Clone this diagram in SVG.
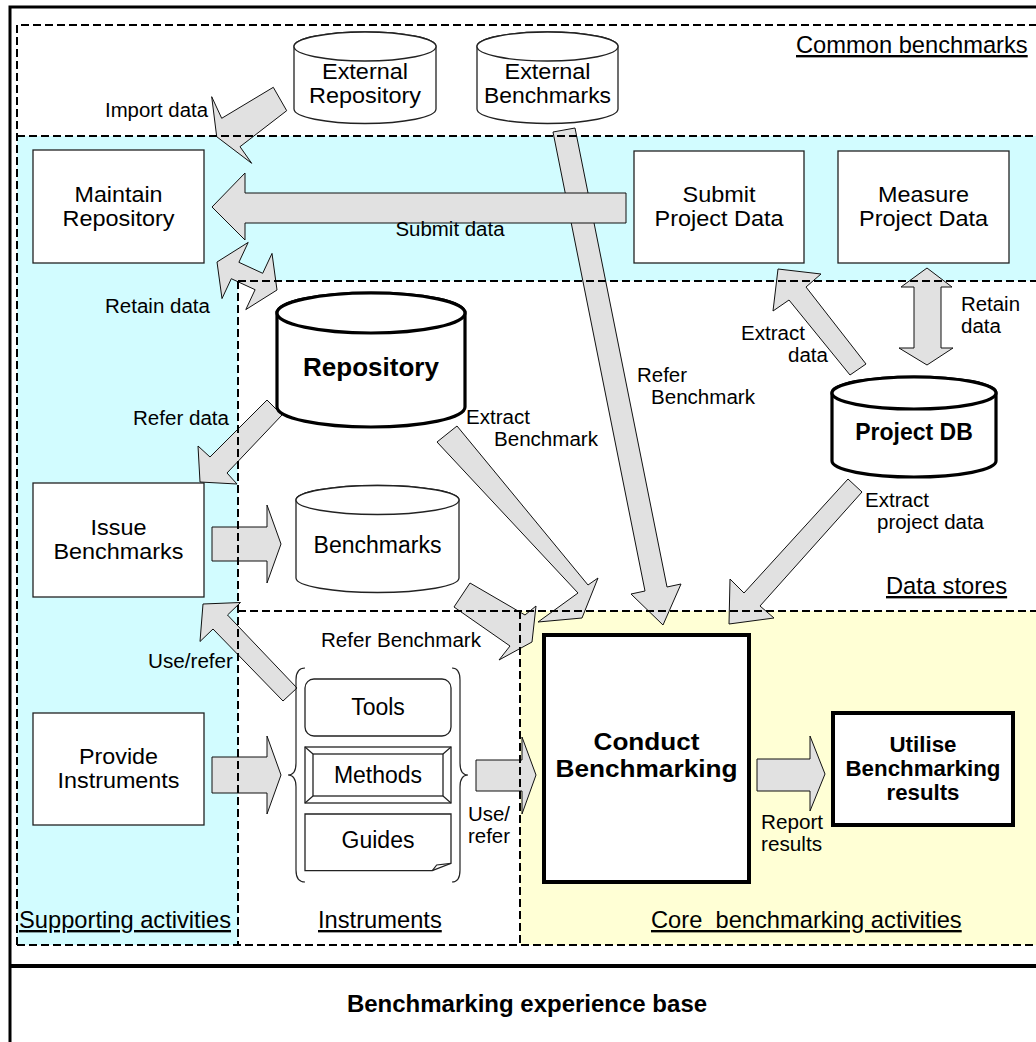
<svg xmlns="http://www.w3.org/2000/svg" width="1036" height="1042" viewBox="0 0 1036 1042">
<style>
.t{font-family:"Liberation Sans",Arial,sans-serif;fill:#000}
.n{font-size:21.5px;text-anchor:middle}
.n1{font-size:23px;text-anchor:middle}
.b{font-weight:bold}
.l{font-size:19.5px}
.r{font-size:23.7px;text-decoration:underline}
.box{fill:#fff;stroke:#222;stroke-width:1.3}
.thick{fill:#fff;stroke:#000;stroke-width:4}
.cyl{fill:#fff;stroke:#222;stroke-width:1.3}
.cylb{fill:#fff;stroke:#000;stroke-width:3.2}
.arrow{fill:#E1E1E1;stroke:#111;stroke-width:1}
.dash{fill:none;stroke:#000;stroke-width:2;stroke-dasharray:8 4}
.thin{fill:none;stroke:#222;stroke-width:1.2}
</style>
<rect x="0" y="0" width="1036" height="1042" fill="#fff"/>
<g id="regions">
<rect x="10" y="7" width="1040" height="1045" fill="#fff" stroke="#000" stroke-width="3"/>
<path d="M17,136 H1040 V281 H238 V945 H17 Z" fill="#D2FCFF"/>
<rect x="520" y="611" width="520" height="334" fill="#FFFFD5"/>
<line x1="10" y1="966" x2="1040" y2="966" stroke="#000" stroke-width="4"/>
</g>
<g id="connectors">
<polygon id="c-import" class="arrow" points="273.3,87.3 221.7,118.3 211.7,96.7 216.7,136.7 251.7,163.3 240,146.7 286.7,110.7"/>
<polygon id="c-referbench" class="arrow" points="553,132 645,591 631,594 663,625 681,584 667,587 575,128"/>
<polygon id="c-submit" class="arrow" points="626,193 245,193 245,173 212,207 245,240 245,223 626,223"/>
<polygon id="c-retain1" class="arrow" points="217,262 248.2,242.4 238.9,262.3 262.7,273.3 272,253.4 277,290 245.8,309.6 255.1,289.7 231.3,278.7 222,298.6"/>
<polygon id="c-extractdata" class="arrow" points="850,375 789,300 773,311 778,269 821,274 806,287 866,364"/>
<polygon id="c-retain2" class="arrow" points="927,268 952,287 941,287 941,348 953,348 927,365 899,348 914,348 914,287 901,287"/>
<polygon id="c-referdata" class="arrow" points="267,400 210,457 198,446 200,482 237,484 227,473 282,415"/>
<polygon id="c-extractbench" class="arrow" points="457,426 588,585 598,578 582,618 538,622 578,593 437,442"/>
<polygon id="c-extractproj" class="arrow" points="848,479 744,593 730,579 729,624 774,618 760,606 862,492"/>
<polygon id="c-issue" class="arrow" points="212,527 267,527 267,505 281,544 267,583 267,561 212,561"/>
<polygon id="c-referbench2" class="arrow" points="470,583 525,615 536,606 532,642 499,660 510,646 454,607"/>
<polygon id="c-userefer1" class="arrow" points="297,688 227.5,615 240.5,602.5 203,604 200,641.5 213,629 283,701"/>
<polygon id="c-provide" class="arrow" points="212,757 267,757 267,736 281,775 267,814 267,793 212,793"/>
<polygon id="c-userefer2" class="arrow" points="476,760 522,760 522,737 536,775 522,814 522,791 476,791"/>
<polygon id="c-report" class="arrow" points="757,759 810,759 810,736 825,774 810,811 810,791 757,791"/>
<text class="t l" x="208" y="117" text-anchor="end" textLength="103" lengthAdjust="spacingAndGlyphs">Import data</text>
<text class="t l" x="450" y="236" text-anchor="middle" textLength="109" lengthAdjust="spacingAndGlyphs">Submit data</text>
<text class="t l" x="210" y="313" text-anchor="end" textLength="105" lengthAdjust="spacingAndGlyphs">Retain data</text>
<text class="t l" x="229" y="425" text-anchor="end" textLength="96" lengthAdjust="spacingAndGlyphs">Refer data</text>
<text class="t l" x="466" y="424" textLength="64" lengthAdjust="spacingAndGlyphs">Extract</text>
<text class="t l" x="494" y="446" textLength="104" lengthAdjust="spacingAndGlyphs">Benchmark</text>
<text class="t l" x="637" y="382" textLength="50" lengthAdjust="spacingAndGlyphs">Refer</text>
<text class="t l" x="651" y="404" textLength="104" lengthAdjust="spacingAndGlyphs">Benchmark</text>
<text class="t l" x="741" y="340" textLength="64" lengthAdjust="spacingAndGlyphs">Extract</text>
<text class="t l" x="788" y="362" textLength="40" lengthAdjust="spacingAndGlyphs">data</text>
<text class="t l" x="961" y="311" textLength="59" lengthAdjust="spacingAndGlyphs">Retain</text>
<text class="t l" x="961" y="333" textLength="40" lengthAdjust="spacingAndGlyphs">data</text>
<text class="t l" x="865" y="507" textLength="64" lengthAdjust="spacingAndGlyphs">Extract</text>
<text class="t l" x="877" y="529" textLength="107" lengthAdjust="spacingAndGlyphs">project data</text>
<text class="t l" x="321" y="647" textLength="160" lengthAdjust="spacingAndGlyphs">Refer Benchmark</text>
<text class="t l" x="233" y="668" text-anchor="end" textLength="85" lengthAdjust="spacingAndGlyphs">Use/refer</text>
<text class="t l" x="468" y="821" textLength="42" lengthAdjust="spacingAndGlyphs">Use/</text>
<text class="t l" x="468" y="843" textLength="42" lengthAdjust="spacingAndGlyphs">refer</text>
<text class="t l" x="761" y="829" textLength="62" lengthAdjust="spacingAndGlyphs">Report</text>
<text class="t l" x="761" y="851" textLength="61" lengthAdjust="spacingAndGlyphs">results</text>
</g>
<g id="borders">
<path class="dash" d="M17,945 V25 H1040"/>
<line class="dash" x1="17" y1="136" x2="1040" y2="136"/>
<line class="dash" x1="238" y1="281" x2="1040" y2="281"/>
<line class="dash" x1="238" y1="281" x2="238" y2="945"/>
<line class="dash" x1="238" y1="611" x2="1040" y2="611"/>
<line class="dash" x1="520" y1="611" x2="520" y2="945"/>
<line class="dash" x1="17" y1="945" x2="1040" y2="945"/>
<text class="t r" x="796" y="53">Common benchmarks</text>
<text class="t r" x="886" y="594">Data stores</text>
<text class="t r" x="19" y="928">Supporting activities</text>
<text class="t r" x="318" y="928">Instruments</text>
<text class="t r" x="651" y="928" style="white-space:pre">Core  benchmarking activities</text>
</g>
<g id="ext-repository">
<path class="cyl" d="M294,46.5 V109 A71,14.5 0 0 0 436,109 V46.5 A71,14.5 0 0 0 294,46.5 Z"/>
<ellipse class="cyl" cx="365" cy="46.5" rx="71" ry="14.5"/>
<text class="t n" x="365" y="79" textLength="86" lengthAdjust="spacingAndGlyphs">External</text>
<text class="t n" x="365" y="103" textLength="112" lengthAdjust="spacingAndGlyphs">Repository</text>
</g>
<g id="ext-benchmarks">
<path class="cyl" d="M477,46.5 V109 A70.5,14.5 0 0 0 618,109 V46.5 A70.5,14.5 0 0 0 477,46.5 Z"/>
<ellipse class="cyl" cx="547.5" cy="46.5" rx="70.5" ry="14.5"/>
<text class="t n" x="547.5" y="79" textLength="86" lengthAdjust="spacingAndGlyphs">External</text>
<text class="t n" x="547.5" y="103" textLength="127" lengthAdjust="spacingAndGlyphs">Benchmarks</text>
</g>
<g id="maintain-repository">
<rect class="box" x="33" y="150" width="171" height="113"/>
<text class="t n" x="118.5" y="202" textLength="88" lengthAdjust="spacingAndGlyphs">Maintain</text>
<text class="t n" x="118.5" y="226" textLength="112" lengthAdjust="spacingAndGlyphs">Repository</text>
</g>
<g id="submit-project-data">
<rect class="box" x="634" y="151" width="170" height="112"/>
<text class="t n" x="719" y="202" textLength="73" lengthAdjust="spacingAndGlyphs">Submit</text>
<text class="t n" x="719" y="226" textLength="129" lengthAdjust="spacingAndGlyphs">Project Data</text>
</g>
<g id="measure-project-data">
<rect class="box" x="838" y="151" width="171" height="112"/>
<text class="t n" x="923.5" y="202" textLength="91" lengthAdjust="spacingAndGlyphs">Measure</text>
<text class="t n" x="923.5" y="226" textLength="129" lengthAdjust="spacingAndGlyphs">Project Data</text>
</g>
<g id="repository">
<path class="cylb" d="M277,313 V407 A94,20 0 0 0 465,407 V313 A94,20 0 0 0 277,313 Z"/>
<ellipse class="cylb" cx="371" cy="313" rx="94" ry="20"/>
<text class="t n1 b" x="371" y="376" style="font-size:26px">Repository</text>
</g>
<g id="project-db">
<path class="cylb" d="M832,393 V461 A82,16 0 0 0 996,461 V393 A82,16 0 0 0 832,393 Z"/>
<ellipse class="cylb" cx="914" cy="393" rx="82" ry="16"/>
<text class="t n1 b" x="914" y="440">Project DB</text>
</g>
<g id="issue-benchmarks">
<rect class="box" x="33" y="483" width="171" height="114"/>
<text class="t n" x="118.5" y="535" textLength="56" lengthAdjust="spacingAndGlyphs">Issue</text>
<text class="t n" x="118.5" y="559" textLength="130" lengthAdjust="spacingAndGlyphs">Benchmarks</text>
</g>
<g id="benchmarks">
<path class="cyl" d="M296,500 V578 A81.5,14.5 0 0 0 459,578 V500 A81.5,14.5 0 0 0 296,500 Z"/>
<ellipse class="cyl" cx="377.5" cy="500" rx="81.5" ry="14.5"/>
<text class="t n1" x="377.5" y="553">Benchmarks</text>
</g>
<g id="provide-instruments">
<rect class="box" x="33" y="713" width="171" height="112"/>
<text class="t n" x="118.5" y="764" textLength="79" lengthAdjust="spacingAndGlyphs">Provide</text>
<text class="t n" x="118.5" y="788" textLength="122" lengthAdjust="spacingAndGlyphs">Instruments</text>
</g>
<g id="instruments">
<path class="thin" d="M305,668 Q296,668 296,680 V763 Q296,775 288,775 Q296,775 296,787 V870 Q296,882 305,882"/>
<path class="thin" d="M452,668 Q460,668 460,680 V763 Q460,775 468,775 Q460,775 460,787 V870 Q460,882 452,882"/>
<g id="tools">
<rect class="box" x="305" y="679" width="146" height="57" rx="9"/>
<text class="t n1" x="378" y="715">Tools</text>
</g>
<g id="methods">
<rect class="box" x="305" y="747" width="146" height="56"/>
<rect class="box" x="313" y="754" width="130" height="42"/>
<path class="thin" d="M305,747 L313,754 M451,747 L443,754 M305,803 L313,796 M451,803 L443,796"/>
<text class="t n1" x="378" y="783">Methods</text>
</g>
<g id="guides">
<path class="box" d="M305,814 H451 V863.3 L432.3,870.7 H305 Z"/>
<path class="thin" d="M432.3,870.7 L436.7,865 L451,863.3"/>
<text class="t n1" x="378" y="848">Guides</text>
</g>
</g>
<g id="conduct-benchmarking">
<rect class="thick" x="544" y="635" width="205" height="247"/>
<text class="t n1 b" x="646.5" y="750" style="font-size:24px" textLength="106" lengthAdjust="spacingAndGlyphs">Conduct</text>
<text class="t n1 b" x="646.5" y="777" style="font-size:24px" textLength="182" lengthAdjust="spacingAndGlyphs">Benchmarking</text>
</g>
<g id="utilise-results">
<rect class="thick" x="833" y="713" width="180" height="112"/>
<text class="t n b" x="923" y="752" textLength="67" lengthAdjust="spacingAndGlyphs">Utilise</text>
<text class="t n b" x="923" y="776" textLength="155" lengthAdjust="spacingAndGlyphs">Benchmarking</text>
<text class="t n b" x="923" y="800" textLength="73" lengthAdjust="spacingAndGlyphs">results</text>
</g>
<g id="experience-base">
<text class="t n1 b" x="527" y="1012" style="font-size:24px">Benchmarking experience base</text>
</g>
</svg>
